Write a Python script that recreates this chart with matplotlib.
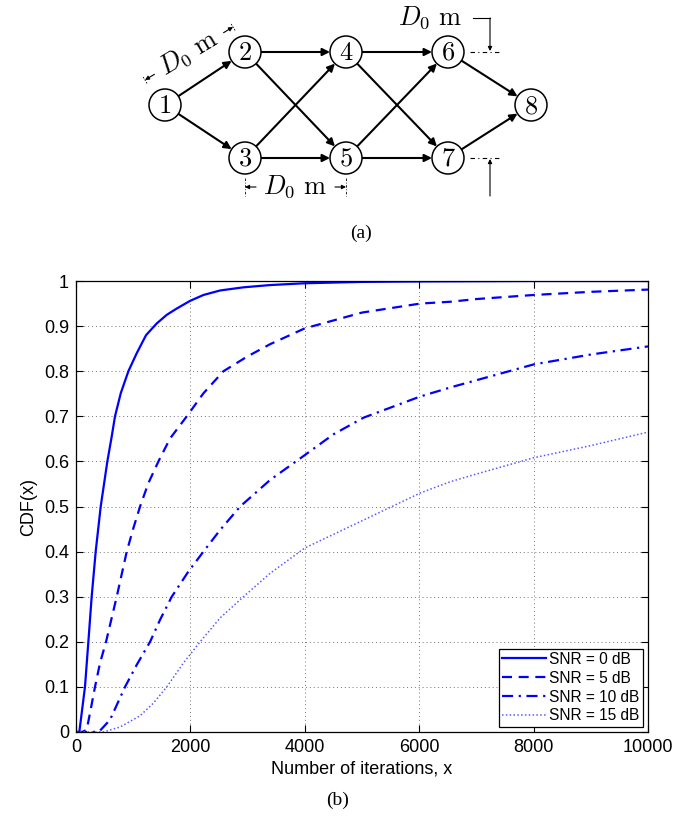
import numpy as np
import matplotlib.pyplot as plt
from matplotlib.patches import Circle, FancyArrowPatch

plt.rcParams["mathtext.fontset"] = "cm"
plt.rcParams["font.family"] = ["Liberation Sans", "DejaVu Sans"]

# ── CDF curves (iterations vs. probability) ─────────────────────────────────
snr0_x = [0, 58, 157, 216, 274, 344, 432, 548, 624, 682, 782, 916, 1062,
          1225, 1412, 1587, 1762, 1995, 2228, 2520, 2928, 3395, 4000, 5000,
          6000, 8000, 10000]
snr0_y = [0, 0, 0.1, 0.2, 0.3, 0.4, 0.5, 0.6, 0.655, 0.7, 0.751, 0.8, 0.84,
          0.88, 0.906, 0.925, 0.939, 0.956, 0.969, 0.979, 0.986, 0.991,
          0.995, 0.998, 0.999, 1.0, 1.0]

snr5_x = [0, 110, 187, 245, 332, 420, 525, 624, 712, 887, 1003, 1120, 1266,
          1441, 1645, 1937, 2228, 2578, 2987, 3395, 4000, 5000, 6020, 6545,
          7000, 8000, 9000, 10000]
snr5_y = [0, 0, 0.005, 0.042, 0.1, 0.153, 0.2, 0.253, 0.3, 0.4, 0.452, 0.5,
          0.552, 0.6, 0.651, 0.7, 0.751, 0.8, 0.832, 0.86, 0.895, 0.93, 0.95,
          0.954, 0.96, 0.969, 0.976, 0.981]

snr10_x = [0, 300, 420, 595, 857, 1062, 1295, 1470, 1674, 1966, 2228, 2520,
           2870, 3395, 4000, 4500, 5028, 6020, 6545, 7000, 8000, 9000, 10000]
snr10_y = [0, 0, 0.003, 0.027, 0.1, 0.149, 0.2, 0.249, 0.3, 0.356, 0.4,
           0.448, 0.5, 0.559, 0.614, 0.66, 0.697, 0.744, 0.764, 0.78, 0.815,
           0.837, 0.855]

snr15_x = [0, 478, 770, 1120, 1353, 1587, 1878, 2170, 2520, 2928, 3395, 4000,
           5028, 6020, 6545, 7000, 8000, 9000, 10000]
snr15_y = [0, 0, 0.011, 0.036, 0.064, 0.1, 0.153, 0.2, 0.253, 0.3, 0.352,
           0.408, 0.47, 0.53, 0.555, 0.572, 0.608, 0.635, 0.665]

series_labels = ["SNR = 0 dB", "SNR = 5 dB", "SNR = 10 dB", "SNR = 15 dB"]
x_ticks = [0, 2000, 4000, 6000, 8000, 10000]
y_ticks = [0, 0.1, 0.2, 0.3, 0.4, 0.5, 0.6, 0.7, 0.8, 0.9, 1]
y_tick_labels = ["0", "0.1", "0.2", "0.3", "0.4", "0.5", "0.6", "0.7",
                 "0.8", "0.9", "1"]

# ── network topology: node id -> (x, y) in pixel space of the figure ───────
node_pos = {1: (165, 105), 2: (245, 52), 3: (245, 158), 4: (346, 52),
            5: (346, 158), 6: (448, 52), 7: (448, 158), 8: (531, 105)}
edges = [(1, 2), (1, 3), (2, 4), (2, 5), (3, 4), (3, 5),
         (4, 6), (4, 7), (5, 6), (5, 7), (6, 8), (7, 8)]

W, H = 677, 818
fig = plt.figure(figsize=(W / 100, H / 100), dpi=100)

# overlay axes in pixel units for the diagram and captions
ov = fig.add_axes([0, 0, 1, 1])
ov.set_xlim(0, W)
ov.set_ylim(H, 0)
ov.axis("off")

R = 16
PX2PT = 0.72
for n, (x, y) in node_pos.items():
    ov.add_patch(Circle((x, y), R, facecolor="white", edgecolor="black",
                        lw=1.1, zorder=3))
    ov.text(x, y + 1, f"${n}$", ha="center", va="center", fontsize=19,
            zorder=4)

for a, b in edges:
    ov.add_patch(FancyArrowPatch(node_pos[a], node_pos[b],
                                 arrowstyle="-|>", mutation_scale=11,
                                 shrinkA=R * PX2PT, shrinkB=R * PX2PT,
                                 lw=1.5, color="black", zorder=2))

d0 = r"$D_{\mathit{0}}\ \mathrm{m}$"


def dim_arrow(p_from, p_to):
    ov.add_patch(FancyArrowPatch(p_from, p_to, arrowstyle="-|>",
                                 mutation_scale=6, shrinkA=0, shrinkB=0,
                                 lw=0.8, color="black"))


# slanted dimension along edge 1-2
p1 = np.array([145.0, 80.0])
p2 = np.array([233.0, 27.0])
u = (p2 - p1) / np.linalg.norm(p2 - p1)
nrm = np.array([u[1], -u[0]])
ang = np.degrees(np.arctan2(-(p2 - p1)[1], (p2 - p1)[0]))
mid = (p1 + p2) / 2
ov.text(mid[0], mid[1], d0, rotation=ang, rotation_mode="anchor",
        ha="center", va="center", fontsize=19)
dim_arrow(p1 + u * 11, p1)
dim_arrow(p2 - u * 11, p2)
for p in (p1, p2):
    ov.plot([p[0] - nrm[0] * 4, p[0] + nrm[0] * 4],
            [p[1] - nrm[1] * 4, p[1] + nrm[1] * 4], color="black", lw=0.6,
            ls=(0, (2, 1.5)))

# horizontal dimension between columns 3 and 5
xl, xr, yd = node_pos[3][0], node_pos[5][0], 187
ov.text((xl + xr) / 2, yd, d0, ha="center", va="center", fontsize=19)
dim_arrow((xl + 11, yd), (xl, yd))
dim_arrow((xr - 11, yd), (xr, yd))
for xx in (xl, xr):
    ov.plot([xx, xx], [178, 196], color="black", lw=0.6, ls=(0, (3, 2, 1, 2)))

# vertical dimension on the right between rows 6 and 7
xv = 490
ov.text(430, 18, d0, ha="center", va="center", fontsize=19)
ov.plot([473, xv], [18, 18], color="black", lw=0.8)
dim_arrow((xv, 18), (xv, node_pos[6][1] - 1))
dim_arrow((xv, 196), (xv, node_pos[7][1] + 1))
for n in (6, 7):
    ov.plot([470, 502], [node_pos[n][1]] * 2, color="black", lw=0.8,
            ls=(0, (4, 3, 1, 3)))

ov.text(361, 233, "(a)", ha="center", va="center", fontsize=14,
        family="Liberation Serif")
ov.text(338, 800, "(b)", ha="center", va="center", fontsize=14,
        family="Liberation Serif")

# ── CDF plot ────────────────────────────────────────────────────────────────
ax = fig.add_axes([76 / W, 1 - 732 / H, (648 - 76) / W, (732 - 281) / H])
blue = (0, 0, 1)
ax.plot(snr0_x, snr0_y, color=blue, lw=1.6, ls="-", label=series_labels[0])
ax.plot(snr5_x, snr5_y, color=blue, lw=1.6, ls=(0, (4.5, 3)),
        label=series_labels[1])
ax.plot(snr10_x, snr10_y, color=blue, lw=1.6, ls=(0, (5, 2.5, 1, 2.5)),
        label=series_labels[2])
ax.plot(snr15_x, snr15_y, color=(0.35, 0.35, 1), lw=1.1, ls=(0, (1, 1.5)),
        label=series_labels[3])

ax.set_xlim(0, 10000)
ax.set_ylim(0, 1)
ax.set_xticks(x_ticks)
ax.set_xticklabels([str(t) for t in x_ticks])
ax.set_yticks(y_ticks)
ax.set_yticklabels(y_tick_labels)
ax.tick_params(direction="in", length=5, width=0.8, top=True, right=True,
               labelsize=13, pad=5)
ax.grid(True, color="0.45", lw=0.7, ls=(0, (1, 3)))
for s in ax.spines.values():
    s.set_linewidth(0.9)
ax.set_xlabel("Number of iterations, x", fontsize=13, labelpad=3)
ax.set_ylabel("CDF(x)", fontsize=13, labelpad=5)

leg = ax.legend(loc="lower right", fontsize=11.2, fancybox=False,
                edgecolor="black", framealpha=1, handlelength=2.8,
                handletextpad=0.2, labelspacing=0.25, borderpad=0.2,
                borderaxespad=0.35)
leg.get_frame().set_linewidth(0.9)

fig.savefig("out.png", dpi=100)
